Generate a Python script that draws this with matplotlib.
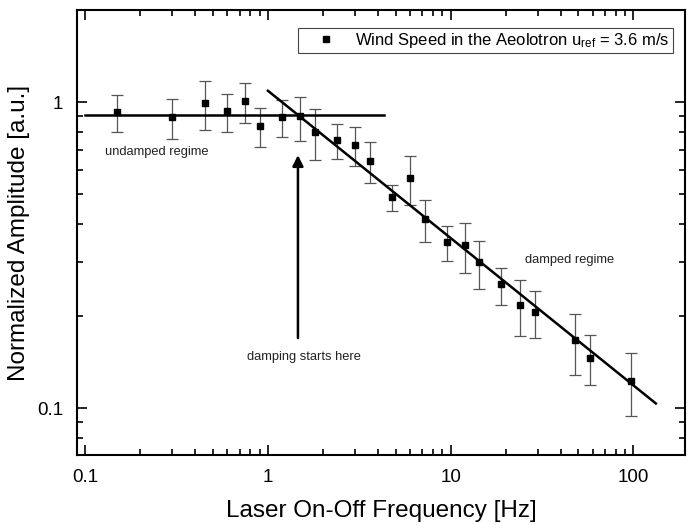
import matplotlib
matplotlib.use('Agg')
import matplotlib.pyplot as plt
from matplotlib.lines import Line2D
from matplotlib.ticker import LogLocator, NullFormatter, FixedLocator, FixedFormatter
import numpy as np

plt.rcParams['font.family'] = ['Liberation Sans', 'DejaVu Sans']
plt.rcParams['mathtext.default'] = 'regular'

# %% data
freq = [0.15, 0.30, 0.45, 0.60, 0.75, 0.90, 1.2, 1.5, 1.8, 2.4, 3.0, 3.6,
        4.8, 6.0, 7.2, 9.6, 12, 14.3, 19, 24, 29, 48, 58, 97]
amp = [0.930, 0.891, 0.990, 0.932, 1.005, 0.837, 0.891, 0.898, 0.800, 0.750, 0.725, 0.643,
       0.490, 0.565, 0.415, 0.350, 0.341, 0.300, 0.254, 0.218, 0.206, 0.167, 0.146, 0.123]
amp_hi = [1.056, 1.020, 1.169, 1.062, 1.151, 0.954, 1.015, 1.041, 0.949, 0.846, 0.830, 0.740,
          0.537, 0.669, 0.478, 0.393, 0.403, 0.352, 0.286, 0.263, 0.241, 0.203, 0.174, 0.151]
amp_lo = [0.798, 0.759, 0.810, 0.796, 0.852, 0.714, 0.770, 0.744, 0.648, 0.651, 0.619, 0.545,
          0.441, 0.461, 0.348, 0.303, 0.276, 0.246, 0.218, 0.172, 0.169, 0.128, 0.119, 0.094]

# fit lines
flat_f = [0.1, 4.34]
flat_a = [0.907, 0.907]
slope_f = [1.0, 133]
slope_a = [1.089, 0.1036]

legend_label = r'Wind Speed in the Aeolotron u$_{ref}$ = 3.6 m/s'

# %% plot
fig = plt.figure(figsize=(6.93, 5.25), dpi=100)
ax = fig.add_axes([0.111, 0.133, 0.878, 0.848])

amp = np.array(amp)
yerr = [amp - np.array(amp_lo), np.array(amp_hi) - amp]
ax.errorbar(freq, amp, yerr=yerr, fmt='none', ecolor='#555555', elinewidth=0.9,
            capsize=4, capthick=0.9, zorder=2)
ax.plot(freq, amp, 's', color='black', markersize=5, zorder=3)
ax.plot(flat_f, flat_a, color='black', lw=1.8, zorder=4)
ax.plot(slope_f, slope_a, color='black', lw=1.8, zorder=4)

ax.annotate('', xy=(1.46, 0.671), xytext=(1.46, 0.1694),
            arrowprops=dict(arrowstyle='-|>', color='black', lw=1.8,
                            mutation_scale=16, shrinkA=0, shrinkB=0))

ax.text(0.246, 0.687, 'undamped regime', fontsize=9.3, color='#222222', ha='center', va='center')
ax.text(1.57, 0.147, 'damping starts here', fontsize=9.3, color='#222222', ha='center', va='center')
ax.text(45, 0.3045, 'damped regime', fontsize=9.3, color='#222222', ha='center', va='center')

ax.set_xscale('log')
ax.set_yscale('log')
ax.set_xlim(0.09, 193)
ax.set_ylim(0.0702, 2.0)

ax.xaxis.set_major_locator(FixedLocator([0.1, 1, 10, 100]))
ax.xaxis.set_major_formatter(FixedFormatter(['0.1', '1', '10', '100']))
ax.xaxis.set_minor_locator(LogLocator(base=10, subs=np.arange(2, 10)))
ax.xaxis.set_minor_formatter(NullFormatter())
ax.yaxis.set_major_locator(FixedLocator([0.1, 1]))
ax.yaxis.set_major_formatter(FixedFormatter(['0.1', '1']))
ax.yaxis.set_minor_locator(LogLocator(base=10, subs=np.arange(2, 10)))
ax.yaxis.set_minor_formatter(NullFormatter())

ax.tick_params(which='both', direction='in', top=True, right=True, width=1.2)
ax.tick_params(which='major', length=7, labelsize=13.5, pad=10)
ax.tick_params(which='minor', length=4)
for s in ax.spines.values():
    s.set_linewidth(1.5)

ax.set_xlabel('Laser On-Off Frequency [Hz]', fontsize=17.5, labelpad=10)
ax.set_ylabel('Normalized Amplitude [a.u.]', fontsize=17.5, labelpad=5)

handle = Line2D([], [], marker='s', ls='none', color='black', markersize=5)
leg = ax.legend([handle], [legend_label], loc='upper right', fontsize=12,
                fancybox=False, edgecolor='#444444', framealpha=1,
                handlelength=3.0, handletextpad=0.2, borderpad=0.2,
                borderaxespad=0, bbox_to_anchor=(0.979, 0.960))
leg.get_frame().set_linewidth(0.8)

plt.savefig('out.png', dpi=100)
